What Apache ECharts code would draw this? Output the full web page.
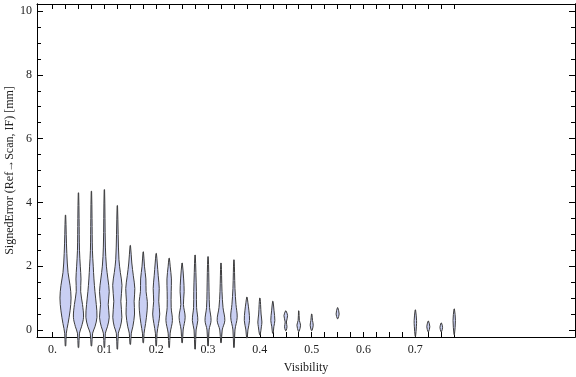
<!DOCTYPE html>
<html>
<head>
<meta charset="utf-8">
<script src="https://cdn.jsdelivr.net/npm/echarts@6/dist/echarts.min.js"></script>
<style>
  html, body { margin: 0; padding: 0; background: #fff; }
  #chart { width: 576px; height: 377px; }
</style>
</head>
<body>
<div id="chart"></div>
<script>
// violin centres on the Visibility axis
const positions = [0.025, 0.05, 0.075, 0.1, 0.125, 0.15, 0.175, 0.2, 0.225, 0.25,
  0.275, 0.3, 0.325, 0.35, 0.375, 0.4, 0.425, 0.45, 0.475, 0.5,
  0.55, 0.7, 0.725, 0.75, 0.775];

// density profile of every violin: [signed error, relative density]
const profiles = [
  [[-0.5, 0.3], [-0.1, 0.8], [0.2, 2.5], [0.6, 4.5], [1.0, 5.5], [1.4, 4.5], [1.8, 2.5], [2.4, 1.3], [3.0, 0.7], [3.6, 0.2]],
  [[-0.55, 0.3], [-0.1, 1], [0.1, 3], [0.4, 5], [0.8, 4], [1.2, 2.2], [1.6, 2.5], [2.0, 1.8], [2.5, 1], [3.5, 0.6], [4.3, 0.2]],
  [[-0.5, 0.3], [-0.1, 1.2], [0.1, 3.5], [0.4, 5.5], [0.8, 4.8], [1.2, 3.5], [1.6, 2.5], [2.0, 1.8], [2.5, 1], [3.5, 0.6], [4.35, 0.2]],
  [[-0.55, 0.3], [-0.1, 1], [0.1, 3], [0.4, 4.8], [0.8, 3.8], [1.2, 4.8], [1.6, 3.5], [2.0, 2], [2.6, 1], [3.5, 0.6], [4.4, 0.2]],
  [[-0.6, 0.3], [-0.1, 1], [0.1, 3], [0.4, 4.5], [0.9, 3.5], [1.4, 4.6], [1.8, 3], [2.2, 1.6], [3.0, 0.8], [3.9, 0.2]],
  [[-0.45, 0.3], [-0.1, 1], [0.1, 2.5], [0.5, 4.2], [0.9, 3.8], [1.3, 4.5], [1.7, 3], [2.1, 1.5], [2.65, 0.2]],
  [[-0.4, 0.3], [-0.1, 0.8], [0.2, 2.3], [0.6, 3.8], [0.9, 4], [1.2, 2.8], [1.6, 2.6], [2.0, 1.2], [2.45, 0.2]],
  [[-0.5, 0.3], [-0.1, 0.8], [0.2, 2.3], [0.5, 3.5], [0.9, 2.5], [1.3, 3], [1.7, 2], [2.1, 1], [2.4, 0.2]],
  [[-0.55, 0.3], [-0.1, 1], [0.3, 3.2], [0.7, 2], [1.2, 2], [1.6, 2.2], [2.0, 1], [2.25, 0.2]],
  [[-0.4, 0.3], [0, 1], [0.4, 3], [0.8, 1.3], [1.2, 2], [1.6, 1.5], [2.1, 0.2]],
  [[-0.6, 0.3], [0, 1], [0.3, 2.7], [0.7, 1.5], [1.2, 1.3], [1.8, 0.8], [2.35, 0.2]],
  [[-0.5, 0.3], [0, 1], [0.3, 3], [0.7, 1.5], [1.2, 1], [1.8, 0.7], [2.3, 0.2]],
  [[-0.4, 0.3], [0, 1.2], [0.3, 3.8], [0.7, 2], [1.2, 1], [1.7, 0.6], [2.1, 0.2]],
  [[-0.55, 0.3], [0, 1], [0.4, 3.2], [0.8, 2], [1.3, 1], [1.8, 0.6], [2.2, 0.2]],
  [[-0.25, 0.3], [0, 1], [0.3, 2.6], [0.6, 2], [0.85, 1], [1.03, 0.2]],
  [[-0.15, 0.3], [0.1, 1.5], [0.25, 2], [0.5, 1.2], [0.8, 0.7], [1.0, 0.2]],
  [[-0.1, 0.3], [0.1, 1], [0.3, 2], [0.6, 1.2], [0.9, 0.2]],
  [[-0.02, 0.3], [0.1, 1.2], [0.25, 0.6], [0.45, 1.8], [0.6, 0.2]],
  [[-0.05, 0.3], [0.15, 1.8], [0.3, 0.6], [0.6, 0.2]],
  [[-0.02, 0.3], [0.15, 1.5], [0.3, 0.8], [0.5, 0.2]],
  [[0.35, 0.2], [0.5, 1.5], [0.7, 0.2]],
  [[-0.2, 0.2], [0.1, 1], [0.3, 1.2], [0.63, 0.2]],
  [[-0.06, 0.2], [0.1, 1.5], [0.28, 0.2]],
  [[-0.06, 0.2], [0.08, 1.3], [0.22, 0.2]],
  [[-0.15, 0.2], [0.3, 1.2], [0.66, 0.2]]
];

// tick marks / labels
const xTicks = [];
for (let i = 0; i <= 31; i++) xTicks.push(+(i * 0.025).toFixed(3));
const xLabels = [0, 0.1, 0.2, 0.3, 0.4, 0.5, 0.6, 0.7];
const yMajor = [0, 2, 4, 6, 8, 10];
const yMinor = [];
for (let i = 0; i <= 20; i++) yMinor.push(i * 0.5);

const X_MIN = -0.03, X_MAX = 1.008;
const Y_MIN = -0.22, Y_MAX = 10.22;
const WIDTH_SCALE = 0.00195; // density unit -> visibility units

const font = '"Liberation Serif", "DejaVu Serif", serif';
const lineStyle = { color: '#000', width: 1 };

function xAxisDef(pos, showLabel) {
  return {
    type: 'value', position: pos, min: X_MIN, max: X_MAX,
    axisLine: { show: true, onZero: false, lineStyle },
    axisTick: { show: true, inside: true, length: 5, customValues: xTicks, lineStyle },
    axisLabel: {
      show: showLabel, customValues: xLabels, margin: 7,
      fontFamily: font, fontSize: 12, color: '#222',
      formatter: v => (v === 0 ? '0.' : String(+v.toFixed(1)))
    },
    splitLine: { show: false }
  };
}

function yAxisDef(pos, ticks, len, showLabel) {
  return {
    type: 'value', position: pos, min: Y_MIN, max: Y_MAX,
    axisLine: { show: true, onZero: false, lineStyle },
    axisTick: { show: true, inside: true, length: len, customValues: ticks, lineStyle },
    axisLabel: {
      show: showLabel, customValues: yMajor, margin: 5,
      fontFamily: font, fontSize: 12, color: '#222'
    },
    splitLine: { show: false }
  };
}

const chart = echarts.init(document.getElementById('chart'));

const xMain = xAxisDef('bottom', true);
xMain.name = 'Visibility';
xMain.nameLocation = 'middle';
xMain.nameGap = 25;
xMain.nameMoveOverlap = false;
xMain.nameTextStyle = { fontFamily: font, fontSize: 12, color: '#222' };

const yMain = yAxisDef('left', yMajor, 6, true);
yMain.name = 'SignedError (Ref\u2192Scan, IF) [mm]';
yMain.nameLocation = 'middle';
yMain.nameGap = 21;
yMain.nameMoveOverlap = false;
yMain.nameTextStyle = { fontFamily: font, fontSize: 12, color: '#222' };

chart.setOption({
  animation: false,
  grid: { left: 37, right: 1, top: 4, bottom: 40, containLabel: false, outerBoundsMode: 'none' },
  xAxis: [xMain, xAxisDef('top', false)],
  yAxis: [
    yMain,
    yAxisDef('left', yMinor, 4, false),
    yAxisDef('right', yMajor, 6, false),
    yAxisDef('right', yMinor, 4, false)
  ],
  series: [{
    type: 'custom',
    xAxisIndex: 0,
    yAxisIndex: 0,
    clip: false,
    data: positions.map((x, i) => [x, i]),
    encode: { x: 0 },
    renderItem: (params, api) => {
      const x = api.value(0);
      const prof = profiles[api.value(1)];
      const right = prof.map(([y, w]) => api.coord([x + w * WIDTH_SCALE, y]));
      const left = prof.slice().reverse().map(([y, w]) => api.coord([x - w * WIDTH_SCALE, y]));
      return {
        type: 'polygon',
        shape: { points: right.concat(left), smooth: 0.35 },
        style: { fill: '#c9cff3', stroke: '#3c3c3c', lineWidth: 1 }
      };
    }
  }]
});
</script>
</body>
</html>
